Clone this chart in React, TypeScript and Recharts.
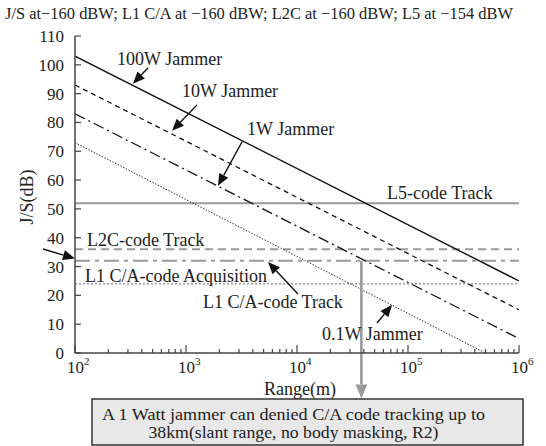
import { LineChart, Line, XAxis, YAxis, ReferenceLine, ReferenceDot } from "recharts";

const FONT = "Liberation Serif";
const INK = "#222";
const AXIS = "#444";
const GREY = "#9a9a9a";

// range (m) at the two ends of every jammer line
const ranges = [1e2, 1e6];
const jammer100W = [103, 25];
const jammer10W = [93, 15];
const jammer1W = [83, 5];
const jammer01W = [73, -6];

// receiver thresholds, J/S (dB)
const l5Track = 52;
const l2cTrack = 36;
const l1Track = 32;
const l1Acq = 24;

const cutoffRange = 38000; // 1W jammer meets L1 C/A track
const boxTopDb = -15.8;

const majorTicks = [1e2, 1e3, 1e4, 1e5, 1e6];
const minorSteps = [2, 3, 4, 5, 6, 7, 8, 9];
const xTicks = majorTicks.flatMap((m, i) =>
  i < majorTicks.length - 1 ? [m, ...minorSteps.map((s) => s * m)] : [m]
);
const yTicks = [0, 10, 20, 30, 40, 50, 60, 70, 80, 90, 100, 110];

// text labels, anchored at (range, dB)
const labelTexts = [
  "100W Jammer",
  "10W Jammer",
  "1W Jammer",
  "0.1W Jammer",
  "L5-code Track",
  "L2C-code Track",
  "L1 C/A-code Acquisition",
  "L1 C/A-code Track",
];
const labelRange = [239, 920, 3550, 16800, 64700, 128, 123, 1420];
const labelDb = [100, 89, 75.7, 4.5, 53.5, 37.2, 24.65, 15.6];

// arrows: tail -> tip
const arrowFrom = [
  { x: 455, y: 99 },
  { x: 1257, y: 86.1 },
  { x: 3200, y: 73.3 },
  { x: 52600, y: 10.4 },
  { x: 10200, y: 20.5 },
  { x: 51.5, y: 36.1 },
];
const arrowTo = [
  { x: 333, y: 93.4 },
  { x: 748, y: 77.1 },
  { x: 1940, y: 58 },
  { x: 71800, y: 16.7 },
  { x: 5480, y: 31.6 },
  { x: 100, y: 32.8 },
];

const series = (vals: number[]) => ranges.map((r, i) => ({ r, v: vals[i] }));

const makeArrow = (color: string, width: number, head: number) => (props: any) => {
  const { x1, y1, x2, y2 } = props;
  const dx = x2 - x1;
  const dy = y2 - y1;
  const len = Math.hypot(dx, dy) || 1;
  const ux = dx / len;
  const uy = dy / len;
  const bx = x2 - ux * head;
  const by = y2 - uy * head;
  const hw = head * 0.42;
  return (
    <g>
      <line x1={x1} y1={y1} x2={bx} y2={by} stroke={color} strokeWidth={width} />
      <polygon
        points={`${x2},${y2} ${bx - uy * hw},${by + ux * hw} ${bx + uy * hw},${by - ux * hw}`}
        fill={color}
      />
    </g>
  );
};

const blackArrow = makeArrow("#111", 1.4, 12);
const greyArrow = makeArrow(GREY, 2.6, 14);

const textShape = (label: string) => (props: any) => (
  <text x={props.cx} y={props.cy} fontSize={18} fontFamily={FONT} fill={INK} style={{ fontFamily: FONT }}>
    {label}
  </text>
);

const BottomTick = (props: any) => {
  const { x, y, payload } = props;
  const v = payload.value;
  const major = majorTicks.includes(v);
  return (
    <g>
      <line x1={x} y1={y} x2={x} y2={y - (major ? 8 : 4)} stroke={AXIS} strokeWidth={1.2} />
      {major && (
        <text x={x - 8} y={y + 20} fontSize={17} fontFamily={FONT} fill={INK} style={{ fontFamily: FONT }}>
          10
          <tspan fontSize={11} dy={-8}>
            {Math.round(Math.log10(v))}
          </tspan>
        </text>
      )}
    </g>
  );
};

const TopTick = (props: any) => {
  const { x, y, payload } = props;
  const major = majorTicks.includes(payload.value);
  return <line x1={x} y1={y} x2={x} y2={y + (major ? 8 : 4)} stroke={AXIS} strokeWidth={1.2} />;
};

const LeftTick = (props: any) => {
  const { x, y, payload } = props;
  return (
    <g>
      <line x1={x} y1={y} x2={x + 6} y2={y} stroke={AXIS} strokeWidth={1.2} />
      <text x={x - 11} y={y + 6} textAnchor="end" fontSize={17} fontFamily={FONT} fill={INK} style={{ fontFamily: FONT }}>
        {payload.value}
      </text>
    </g>
  );
};

const RightTick = (props: any) => {
  const { x, y } = props;
  return <line x1={x} y1={y} x2={x - 6} y2={y} stroke={AXIS} strokeWidth={1.2} />;
};

export default function App() {
  return (
    <div style={{ position: "absolute", left: 0, top: 0, width: 546, height: 446, background: "#fff", fontFamily: FONT }}>
      <LineChart width={546} height={446} margin={{ top: 36, right: 27, bottom: 0, left: 30 }}>
        <XAxis
          dataKey="r"
          type="number"
          scale="log"
          domain={[1e2, 1e6]}
          allowDataOverflow
          ticks={xTicks}
          interval={0}
          height={93}
          tickSize={0}
          tickMargin={0}
          tick={<BottomTick />}
          axisLine={{ stroke: AXIS, strokeWidth: 1.5 }}
          tickLine={false}
        />
        <XAxis
          xAxisId="top"
          orientation="top"
          dataKey="r"
          type="number"
          scale="log"
          domain={[1e2, 1e6]}
          allowDataOverflow
          ticks={xTicks}
          interval={0}
          height={0}
          tickSize={0}
          tickMargin={0}
          tick={<TopTick />}
          axisLine={{ stroke: AXIS, strokeWidth: 1.5 }}
          tickLine={false}
        />
        <YAxis
          type="number"
          domain={[0, 110]}
          allowDataOverflow
          ticks={yTicks}
          interval={0}
          width={45}
          tickSize={0}
          tickMargin={0}
          tick={<LeftTick />}
          axisLine={{ stroke: AXIS, strokeWidth: 1.5 }}
          tickLine={false}
        />
        <YAxis
          yAxisId="r"
          orientation="right"
          type="number"
          domain={[0, 110]}
          ticks={yTicks}
          interval={0}
          width={0}
          tickSize={0}
          tickMargin={0}
          tick={<RightTick />}
          axisLine={{ stroke: AXIS, strokeWidth: 1.5 }}
          tickLine={false}
        />

        <ReferenceLine y={l5Track} stroke={GREY} strokeWidth={2} />
        <ReferenceLine y={l2cTrack} stroke={GREY} strokeWidth={2} strokeDasharray="8 5" />
        <ReferenceLine y={l1Track} stroke={GREY} strokeWidth={2} strokeDasharray="15 5 4 5" />
        <ReferenceLine y={l1Acq} stroke={GREY} strokeWidth={1.5} strokeDasharray="2 2" />

        <Line data={series(jammer100W)} dataKey="v" stroke="#111" strokeWidth={1.4} dot={false} isAnimationActive={false} />
        <Line data={series(jammer10W)} dataKey="v" stroke="#111" strokeWidth={1.3} strokeDasharray="5 4" dot={false} isAnimationActive={false} />
        <Line data={series(jammer1W)} dataKey="v" stroke="#111" strokeWidth={1.3} strokeDasharray="11 4 2 4" dot={false} isAnimationActive={false} />
        <Line data={series(jammer01W)} dataKey="v" stroke="#333" strokeWidth={1} strokeDasharray="1.5 1.5" dot={false} isAnimationActive={false} />

        <ReferenceLine
          segment={[
            { x: cutoffRange, y: l1Track },
            { x: cutoffRange, y: boxTopDb },
          ]}
          ifOverflow="visible"
          shape={greyArrow}
        />
        {arrowFrom.map((p, i) => (
          <ReferenceLine key={"a" + i} segment={[p, arrowTo[i]]} ifOverflow="visible" shape={blackArrow} />
        ))}
        {labelTexts.map((t, i) => (
          <ReferenceDot
            key={"t" + i}
            x={labelRange[i]}
            y={labelDb[i]}
            r={0}
            ifOverflow="visible"
            shape={textShape(t)}
          />
        ))}
      </LineChart>

      <svg
        width={546}
        height={446}
        style={{ position: "absolute", left: 0, top: 0, pointerEvents: "none", fontFamily: FONT }}
      >
        <text x={5} y={19} fontSize={16} fontFamily={FONT} fill={INK} textLength={508} lengthAdjust="spacingAndGlyphs">
          J/S at−160 dBW; L1 C/A at −160 dBW; L2C at −160 dBW; L5 at −154 dBW
        </text>
        <text
          x={33}
          y={197}
          transform="rotate(-90 33 197)"
          textAnchor="middle"
          fontSize={18}
          fontFamily={FONT}
          fill={INK}
        >
          J/S(dB)
        </text>
        <text x={300} y={395} textAnchor="middle" fontSize={18} fontFamily={FONT} fill={INK}>
          Range(m)
        </text>
        <rect x={92} y={399} width={431} height={46} fill="#e8e8e8" stroke="#333" strokeWidth={1.5} />
        <text x={293.5} y={420} textAnchor="middle" fontSize={16} fontFamily={FONT} fill={INK} textLength={383} lengthAdjust="spacingAndGlyphs">
          A 1 Watt jammer can denied C/A code tracking up to
        </text>
        <text x={293.5} y={438} textAnchor="middle" fontSize={16} fontFamily={FONT} fill={INK} textLength={290} lengthAdjust="spacingAndGlyphs">
          38km(slant range, no body masking, R2)
        </text>
      </svg>
    </div>
  );
}
